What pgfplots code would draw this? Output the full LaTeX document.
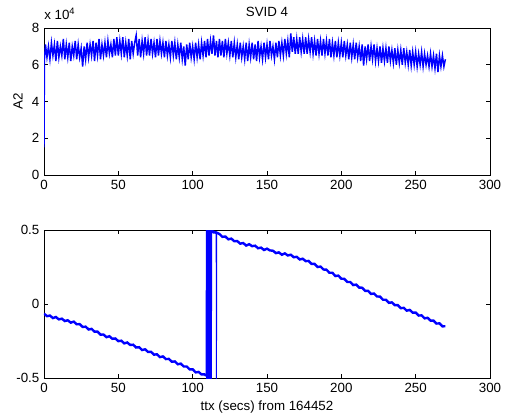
\documentclass[border=0pt]{standalone}
\usepackage{fontspec}
\setmainfont{Liberation Sans}
\usepackage{pgfplots}
\pgfplotsset{compat=1.18}

\pgfplotsset{
  matlab/.style={
    scale only axis,
    width=334.5pt,
    xmin=0, xmax=300,
    xtick={0,50,100,150,200,250,300},
    tick align=inside,
    major tick length=3pt,
    axis line style={line width=0.5pt},
    every tick/.style={black, line width=0.5pt},
    tick label style={font=\fontsize{10}{12}\selectfont},
    label style={font=\fontsize{10}{12}\selectfont},
    /pgf/number format/assume math mode=true,
    scaled y ticks=false,
  }
}

\begin{document}
\begin{tikzpicture}
% top: A2 (values in units of 10^4)
\begin{axis}[matlab, name=top,
  at={(33pt,183pt)}, anchor=south west,
  height=110.25pt,
  ymin=0, ymax=8, ytick={0,2,4,6,8},
  ylabel={A2},
]
\addplot[blue, line width=1.1pt] coordinates {
(0,1.5)(0.3,6.3)(1,7.1)(2,6.4)(3,7.0)(4,6.3)(5,7.2)(6,6.5)(7,7.1)(8,6.2)(9,7.3)
(10,6.4)(11,7.0)(12,6.5)(13,7.4)(14,6.3)(15,7.1)(16,6.4)(17,7.2)(18,6.2)(19,7.0)
(20,6.5)(21,7.3)(22,6.3)(23,7.1)(24,6.4)(25,6.9)(26,5.9)(27,7.0)(28,6.3)(29,7.2)
(30,6.4)(31,7.1)(32,6.5)(33,7.3)(34,6.2)(35,7.2)(36,6.5)(37,7.4)(38,6.3)(39,7.1)
(40,6.5)(41,7.2)(42,6.4)(43,7.3)(44,6.6)(45,7.1)(46,6.4)(47,7.4)(48,6.5)(49,7.5)
(50,6.5)(51,7.3)(52,6.6)(53,7.5)(54,6.4)(55,7.2)(56,6.5)(57,7.4)(58,6.3)(59,7.3)
(60,6.6)(61,7.2)(62,7.6)(63,6.5)(64,7.4)(65,6.4)(66,7.3)(67,6.6)(68,7.5)(69,6.5)
(70,7.3)(71,6.5)(72,7.4)(73,6.6)(74,7.2)(75,6.4)(76,7.4)(77,6.5)(78,7.3)(79,6.6)
(80,7.2)(81,6.4)(82,7.3)(83,6.5)(84,7.1)(85,6.4)(86,7.3)(87,6.5)(88,7.2)(89,6.3)
(90,7.1)(91,6.4)(92,7.2)(93,6.3)(94,7.0)(95,5.95)(96,7.1)(97,6.3)(98,7.2)(99,6.4)
(100,7.0)(101,6.3)(102,7.2)(103,6.4)(104,7.1)(105,6.3)(106,7.2)(107,6.5)(108,7.3)(109,6.4)
(110,7.4)(111,6.5)(112,7.3)(113,6.6)(114,7.6)(115,6.5)(116,7.3)(117,6.4)(118,7.4)(119,6.5)
(120,7.3)(121,6.4)(122,7.4)(123,6.6)(124,7.2)(125,6.5)(126,7.3)(127,6.4)(128,7.2)(129,6.4)
(130,7.1)(131,6.3)(132,7.2)(133,6.4)(134,7.0)(135,6.3)(136,7.2)(137,6.2)(138,7.1)(139,6.4)
(140,7.2)(141,6.3)(142,7.1)(143,6.2)(144,7.3)(145,6.4)(146,7.0)(147,6.3)(148,7.2)(149,6.4)
(150,7.1)(151,6.3)(152,7.3)(153,6.5)(154,7.0)(155,6.3)(156,7.2)(157,6.4)(158,7.3)(159,6.5)
(160,7.2)(161,6.5)(162,7.4)(163,6.6)(164,7.3)(165,6.4)(166,7.7)(167,6.7)(168,7.5)(169,6.6)
(170,7.4)(171,6.6)(172,7.5)(173,6.7)(174,7.4)(175,6.6)(176,7.5)(177,6.6)(178,7.4)(179,6.7)
(180,7.5)(181,6.6)(182,7.3)(183,6.5)(184,7.4)(185,6.6)(186,7.3)(187,6.5)(188,7.4)(189,6.6)
(190,7.3)(191,6.5)(192,7.4)(193,6.4)(194,7.2)(195,6.5)(196,7.3)(197,6.4)(198,7.2)(199,6.5)
(200,7.2)(201,6.4)(202,7.3)(203,6.5)(204,7.1)(205,6.3)(206,7.2)(207,6.4)(208,7.1)(209,6.3)
(210,7.2)(211,6.4)(212,7.0)(213,6.2)(214,7.1)(215,5.95)(216,7.0)(217,6.3)(218,7.1)(219,6.2)
(220,7.0)(221,6.3)(222,7.1)(223,6.2)(224,6.9)(225,6.2)(226,7.0)(227,6.1)(228,6.9)(229,6.2)
(230,6.9)(231,6.1)(232,7.0)(233,6.2)(234,6.8)(235,6.1)(236,6.9)(237,6.0)(238,6.8)(239,6.1)
(240,6.8)(241,6.0)(242,6.9)(243,6.1)(244,6.7)(245,6.0)(246,6.8)(247,5.95)(248,6.7)(249,6.0)
(250,6.7)(251,5.9)(252,6.6)(253,6.0)(254,6.7)(255,5.9)(256,6.6)(257,6.0)(258,6.5)(259,5.9)
(260,6.6)(261,5.9)(262,6.5)(263,5.8)(264,6.6)(265,5.6)(266,6.5)(267,5.9)(268,6.5)(269,5.9)
(270,6.3)
};
\end{axis}
\node[anchor=base, inner sep=0pt, font=\fontsize{10}{12}\selectfont]
  at ([yshift=9pt]top.north) {SVID 4};
\node[anchor=base west, inner sep=0pt, font=\fontsize{10}{12}\selectfont]
  at ([yshift=6.75pt]top.north west) {x 10\textsuperscript{4}};

% bottom
\begin{axis}[matlab,
  at={(33pt,30.75pt)}, anchor=south west,
  height=111pt,
  ymin=-0.5, ymax=0.5, ytick={-0.5,0,0.5},
  xlabel={ttx (secs) from 164452},
]
\addplot[blue, line width=1.8pt] coordinates {
(0,-0.065)(2,-0.082)(4,-0.078)(6,-0.095)(8,-0.088)(10,-0.104)(12,-0.099)(14,-0.115)(16,-0.110)(18,-0.126)
(20,-0.119)(22,-0.137)(24,-0.136)(26,-0.155)(28,-0.153)(30,-0.172)(32,-0.168)(34,-0.187)(36,-0.187)(38,-0.207)
(40,-0.206)(42,-0.224)(44,-0.218)(46,-0.235)(48,-0.233)(50,-0.251)(52,-0.248)(54,-0.266)(56,-0.260)(58,-0.277)
(60,-0.275)(62,-0.294)(64,-0.292)(66,-0.311)(68,-0.306)(70,-0.324)(72,-0.323)(74,-0.342)(76,-0.340)(78,-0.359)
(80,-0.354)(82,-0.372)(84,-0.371)(86,-0.390)(88,-0.388)(90,-0.407)(92,-0.403)(94,-0.422)(96,-0.422)(98,-0.442)
(100,-0.441)(102,-0.462)(104,-0.459)(106,-0.476)(108,-0.475)(109,-0.485)
};
\addplot[blue, line width=0.7pt] coordinates {
(109,-0.485)
(109.2,0.52)(109.4,-0.52)(109.6,0.52)(109.8,-0.52)(110.0,0.52)(110.2,-0.52)(110.4,0.52)(110.6,-0.52)
(110.8,0.52)(111.0,-0.52)(111.2,0.52)(111.4,-0.52)(111.6,0.52)(111.8,-0.52)(112.0,0.52)(112.2,-0.52)
(112.4,0.52)(112.6,-0.52)(112.8,0.52)
(113,0.495)(115.8,0.490)(116,-0.52)(116.2,0.485)
};
\addplot[blue, line width=1.8pt] coordinates {
(113,0.495)(114,0.484)(116.2,0.482)
(118,0.473)(120,0.454)(122,0.456)(124,0.437)(126,0.442)(128,0.424)(130,0.425)(132,0.408)(134,0.412)(136,0.395)
(138,0.404)(140,0.391)(142,0.394)(144,0.377)(146,0.381)(148,0.365)(150,0.374)(152,0.362)(154,0.360)(156,0.344)
(158,0.349)(160,0.333)(162,0.342)(164,0.328)(166,0.333)(168,0.316)(170,0.319)(172,0.301)(174,0.306)(176,0.290)
(178,0.291)(180,0.271)(182,0.271)(184,0.250)(186,0.253)(188,0.233)(190,0.232)(192,0.211)(194,0.211)(196,0.189)
(198,0.192)(200,0.171)(202,0.170)(204,0.149)(206,0.149)(208,0.128)(210,0.131)(212,0.111)(214,0.110)(216,0.089)
(218,0.089)(220,0.068)(222,0.071)(224,0.051)(226,0.050)(228,0.029)(230,0.029)(232,0.008)(234,0.011)(236,-0.008)
(238,-0.008)(240,-0.028)(242,-0.026)(244,-0.045)(246,-0.040)(248,-0.058)(250,-0.058)(252,-0.078)(254,-0.077)(256,-0.097)
(258,-0.093)(260,-0.112)(262,-0.112)(264,-0.132)(266,-0.131)(268,-0.151)(270,-0.150)
};
\end{axis}
\pgfresetboundingbox
\path[use as bounding box] (0,0) rectangle (380.25pt,314.25pt);
\end{tikzpicture}
\end{document}
